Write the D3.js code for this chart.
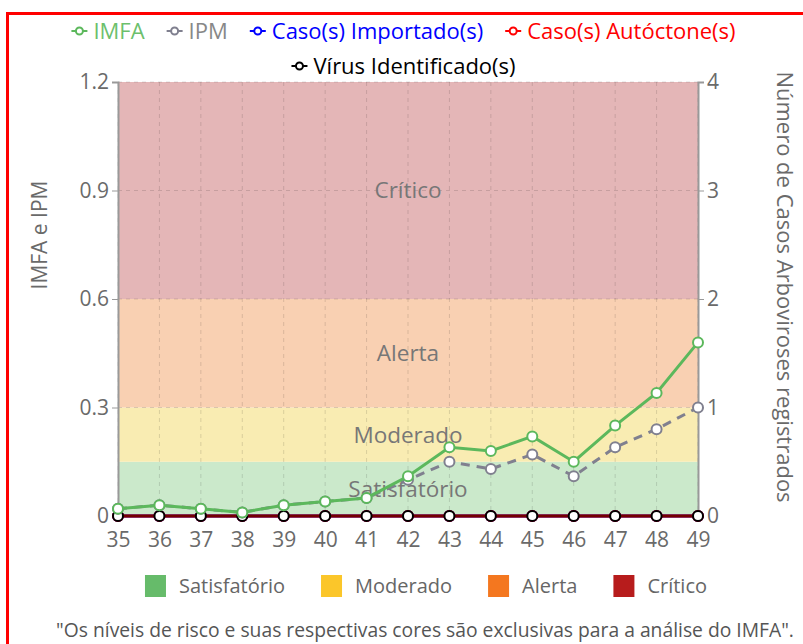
<!DOCTYPE html>
<html>
<head>
<meta charset="utf-8">
<script src="https://cdn.jsdelivr.net/npm/d3@7"></script>
<style>
  body { margin: 0; background: #fff; }
  #frame { position: absolute; left: 6px; top: 12px; width: 820px; height: 660px; border-left: 3px solid #ff0000; border-top: 3px solid #ff0000; }
  text { font-family: "Open Sans", "Noto Sans", sans-serif; }
</style>
</head>
<body>
<div id="frame"></div>
<div id="chart" style="position:absolute;left:0;top:0"></div>
<script>
// Epidemiological weeks
const weeks = [35, 36, 37, 38, 39, 40, 41, 42, 43, 44, 45, 46, 47, 48, 49];
// Indices (left axis)
const imfa = [0.02, 0.03, 0.02, 0.01, 0.03, 0.04, 0.05, 0.11, 0.19, 0.18, 0.22, 0.15, 0.25, 0.34, 0.48];
const ipm = [0.02, 0.03, 0.02, 0.01, 0.03, 0.04, 0.05, 0.10, 0.15, 0.13, 0.17, 0.11, 0.19, 0.24, 0.30];
// Case counts (right axis)
const casosImportados = [0, 0, 0, 0, 0, 0, 0, 0, 0, 0, 0, 0, 0, 0, 0];
const casosAutoctones = [0, 0, 0, 0, 0, 0, 0, 0, 0, 0, 0, 0, 0, 0, 0];
const virusIdentificados = [0, 0, 0, 0, 0, 0, 0, 0, 0, 0, 0, 0, 0, 0, 0];
// Ticks
const leftTicks = [0, 0.3, 0.6, 0.9, 1.2];
const rightTicks = [0, 1, 2, 3, 4];
// Risk levels
const riskNames = ["Satisfatório", "Moderado", "Alerta", "Crítico"];
const riskFrom = [0, 0.15, 0.3, 0.6];
const riskTo = [0.15, 0.3, 0.6, 1.2];
const riskBandColors = ["#cbe9cb", "#f9ecb2", "#f9d0b2", "#e4b6b7"];
const riskLegendColors = ["#66bb6a", "#fbc62a", "#f4771f", "#b71c1c"];

const W = 803, H = 644;
const margin = { top: 82, right: 105, bottom: 128, left: 118 };
const width = W - margin.left - margin.right;
const height = H - margin.top - margin.bottom;

const svg = d3.select("#chart").append("svg")
  .attr("width", W).attr("height", H);

const g = svg.append("g").attr("transform", `translate(${margin.left},${margin.top})`);

const x = d3.scalePoint().domain(weeks).range([0, width]);
const y = d3.scaleLinear().domain([0, 1.2]).range([height, 0]);
const y2 = d3.scaleLinear().domain([0, 4]).range([height, 0]);

// Risk bands
g.selectAll(".band").data(riskNames).enter().append("rect")
  .attr("x", 0).attr("width", width)
  .attr("y", (d, i) => y(riskTo[i]))
  .attr("height", (d, i) => y(riskFrom[i]) - y(riskTo[i]))
  .attr("fill", (d, i) => riskBandColors[i]);

// Grid
g.selectAll(".vgrid").data(weeks).enter().append("line")
  .attr("x1", d => x(d)).attr("x2", d => x(d))
  .attr("y1", 0).attr("y2", height)
  .attr("stroke", "rgba(0,0,0,0.13)").attr("stroke-dasharray", "4,4");
g.selectAll(".hgrid").data(leftTicks).enter().append("line")
  .attr("x1", 0).attr("x2", width)
  .attr("y1", d => y(d)).attr("y2", d => y(d))
  .attr("stroke", "rgba(0,0,0,0.13)").attr("stroke-dasharray", "4,4");

// Band labels
g.selectAll(".bandLabel").data(riskNames).enter().append("text")
  .attr("x", width / 2)
  .attr("y", (d, i) => y((riskFrom[i] + riskTo[i]) / 2))
  .attr("dy", "0.35em")
  .attr("text-anchor", "middle")
  .style("font-size", "22.5px")
  .style("fill", "#777")
  .text(d => d);

// Axes
function styleAxis(sel) {
  sel.selectAll("path").attr("stroke", "#999").attr("stroke-width", 2);
  sel.selectAll("line").attr("stroke", "#999");
  sel.selectAll("text").style("font-size", "21px").style("fill", "#6a6a6a")
    .style("font-family", "'Open Sans', sans-serif");
}
g.append("g").call(d3.axisLeft(y).tickValues(leftTicks).tickFormat(d3.format("~g")).tickSize(6).tickSizeOuter(6)).call(styleAxis);
g.append("g").attr("transform", `translate(${width},0)`)
  .call(d3.axisRight(y2).tickValues(rightTicks).tickFormat(d3.format("d")).tickSize(6).tickSizeOuter(6)).call(styleAxis);
g.append("g").attr("transform", `translate(0,${height})`)
  .call(d3.axisBottom(x).tickSize(5).tickSizeOuter(0)).call(styleAxis)
  .call(s => s.select("path").remove())
  .selectAll("text").attr("y", 31).attr("dy", 0);

// Axis titles
svg.append("text")
  .attr("transform", "translate(40,235) rotate(-90)")
  .attr("text-anchor", "middle").attr("dy", "0.35em")
  .style("font-size", "21px").style("fill", "#6a6a6a")
  .text("IMFA e IPM");
svg.append("text")
  .attr("transform", "translate(785,287) rotate(90)")
  .attr("text-anchor", "middle").attr("dy", "0.35em")
  .style("font-size", "22px").style("fill", "#6a6a6a")
  .text("Número de Casos Arboviroses registrados");

// Series
const series = [
  { name: "IMFA", values: imfa, scale: y, color: "#5cb85c", text: "#6cc06c", dash: null },
  { name: "IPM", values: ipm, scale: y, color: "#80808f", text: "#888", dash: "9,7" },
  { name: "Caso(s) Importado(s)", values: casosImportados, scale: y2, color: "#0000ff", text: "#0000ff", dash: null },
  { name: "Caso(s) Autóctone(s)", values: casosAutoctones, scale: y2, color: "#ff0000", text: "#ff0000", dash: null },
  { name: "Vírus Identificado(s)", values: virusIdentificados, scale: y2, color: "#000000", text: "#000000", dash: null }
];
const drawOrder = [2, 3, 4, 1, 0];

drawOrder.forEach(k => {
  const s = series[k];
  const line = d3.line().x((d, i) => x(weeks[i])).y(d => s.scale(d));
  g.append("path").datum(s.values)
    .attr("d", line).attr("fill", "none")
    .attr("stroke", s.color).attr("stroke-width", 3)
    .attr("stroke-opacity", k === 4 ? 0.55 : 1)
    .attr("stroke-dasharray", s.dash);
  g.selectAll(null).data(s.values).enter().append("circle")
    .attr("cx", (d, i) => x(weeks[i])).attr("cy", d => s.scale(d))
    .attr("r", 5).attr("fill", "#fff")
    .attr("stroke", s.color).attr("stroke-width", 2);
});

// Top legend
const legendRows = [[0, 1, 2, 3], [4]];
const legendY = [31, 66];
const gap = 22;
legendRows.forEach((row, r) => {
  const lg = svg.append("g");
  let cx = 0;
  row.forEach(k => {
    const s = series[k];
    const item = lg.append("g").attr("transform", `translate(${cx},0)`);
    item.append("line").attr("x1", 0).attr("x2", 16).attr("y1", 0).attr("y2", 0)
      .attr("stroke", s.color).attr("stroke-width", 2);
    item.append("circle").attr("cx", 8).attr("cy", 0).attr("r", 3.5)
      .attr("fill", "#fff").attr("stroke", s.color).attr("stroke-width", 2);
    const t = item.append("text").attr("x", 22).attr("dy", "0.35em")
      .style("font-size", "22px").style("fill", s.text).text(s.name);
    cx += 22 + t.node().getComputedTextLength() + gap;
  });
  const total = cx - gap;
  lg.attr("transform", `translate(${(W - total) / 2 + 2},${legendY[r]})`);
});

// Bottom legend
const bl = svg.append("g");
let bx = 0;
riskNames.forEach((name, i) => {
  const item = bl.append("g").attr("transform", `translate(${bx},0)`);
  item.append("rect").attr("x", 0).attr("y", -11).attr("width", 21).attr("height", 22)
    .attr("fill", riskLegendColors[i]);
  const t = item.append("text").attr("x", 34).attr("dy", "0.35em")
    .style("font-size", "20px").style("fill", "#666").text(name);
  bx += 34 + t.node().getComputedTextLength() + 36;
});
bl.attr("transform", `translate(${426 - (bx - 36) / 2},586)`);

svg.append("text")
  .attr("x", 425).attr("y", 630).attr("dy", "0.35em")
  .attr("text-anchor", "middle")
  .style("font-size", "19.3px").style("fill", "#555")
  .text("\"Os níveis de risco e suas respectivas cores são exclusivas para a análise do IMFA\".");
</script>
</body>
</html>
